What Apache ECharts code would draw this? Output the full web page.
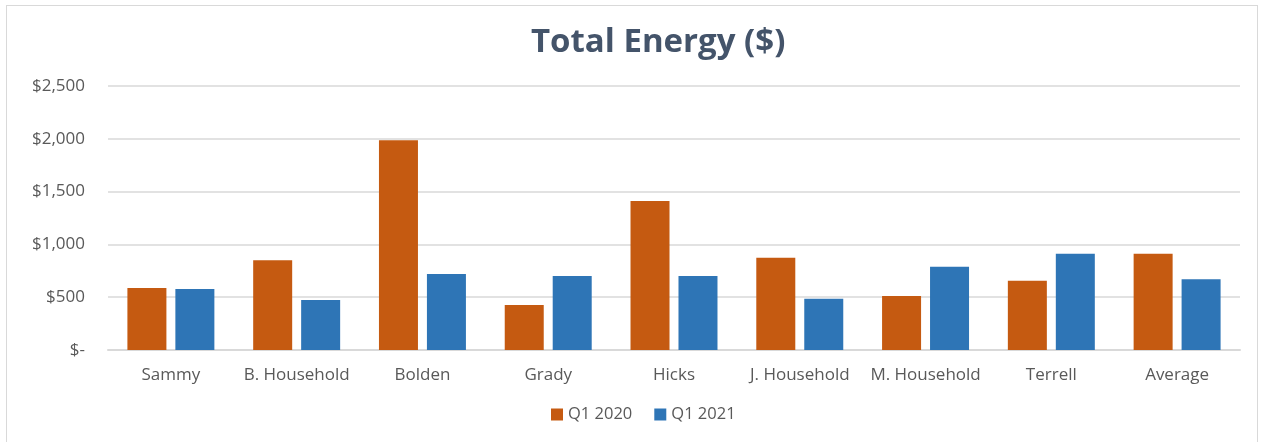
<!DOCTYPE html>
<html>
<head>
<meta charset="utf-8">
<script src="https://cdn.jsdelivr.net/npm/echarts@6/dist/echarts.min.js"></script>
<style>
html,body{margin:0;padding:0;background:#fff;}
#frame{position:absolute;left:6px;top:5px;width:1252px;height:440px;border:1px solid #d9d9d9;box-sizing:border-box;}
#chart{position:absolute;left:0;top:0;width:1261px;height:442px;}
</style>
</head>
<body>
<div id="frame"></div>
<div id="chart"></div>
<script>
const categories = ['Sammy','B. Household','Bolden','Grady','Hicks','J. Household','M. Household','Terrell','Average'];
const q12020 = [586, 851, 1986, 426, 1412, 873, 511, 656, 911];
const q12021 = [577, 473, 719, 700, 700, 485, 788, 911, 671];
const seriesNames = ['Q1 2020','Q1 2021'];
const yTicks = {min: 0, max: 2500, interval: 500};

const FONT = 'Open Sans';
const chart = echarts.init(document.getElementById('chart'), null, {renderer:'canvas'});
const fmt = v => v === 0 ? '$-' : '$' + v.toLocaleString('en-US');
chart.setOption({
  animation: false,
  title: {
    text: 'Total Energy ($)',
    left: 526, top: 21,
    textStyle: {fontFamily: FONT, fontWeight: 'bold', fontSize: 33, color: '#44546A'}
  },
  legend: {
    data: seriesNames,
    bottom: 14, left: 546,
    itemWidth: 12, itemHeight: 12, itemGap: 22,
    icon: 'rect',
    textStyle: {fontFamily: FONT, fontSize: 16.5, color: '#595959'}
  },
  grid: {left: 108, right: 21, top: 86, bottom: 92},
  xAxis: {
    type: 'category',
    data: categories,
    axisTick: {show: false},
    axisLine: {lineStyle: {color: '#d9d9d9', width: 2}},
    axisLabel: {fontFamily: FONT, fontSize: 17, color: '#595959', margin: 17, interval: 0}
  },
  yAxis: {
    type: 'value',
    min: yTicks.min, max: yTicks.max, interval: yTicks.interval,
    axisLine: {show: false},
    axisTick: {show: false},
    splitLine: {lineStyle: {color: '#d9d9d9', width: 1.5}},
    axisLabel: {formatter: fmt, fontFamily: FONT, fontSize: 17, color: '#595959', margin: 23}
  },
  series: [
    {name: seriesNames[0], type: 'bar', data: q12020, barWidth: 39, barGap: '23%',
     itemStyle: {color: '#C55A11'}},
    {name: seriesNames[1], type: 'bar', data: q12021, barWidth: 39,
     itemStyle: {color: '#2E75B6'}}
  ]
});
</script>
</body>
</html>
